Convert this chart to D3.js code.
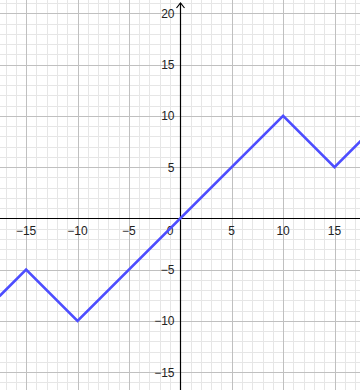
<!DOCTYPE html>
<html>
<head>
<meta charset="utf-8">
<script src="https://cdn.jsdelivr.net/npm/d3@7"></script>
<style>
  body { margin: 0; background: #fff; }
  svg { display: block; }
  .lbl { font-family: "Liberation Sans", Arial, sans-serif; font-size: 12px; fill: #222; }
</style>
</head>
<body>
<div id="vis"></div>
<script>
const width = 360, height = 390;

// graph corners (piecewise linear function), edge points cut at the window
const lineX = [-17.6, -15, -10, 10, 15, 17.6];
const lineY = [-7.6, -5, -10, 10, 5, 7.6];

// tick labels
const xTicks = [-15, -10, -5, 5, 10, 15];
const yTicks = [-15, -10, -5, 5, 10, 15, 20];

// visible window
const xDomain = [-17.54, 17.48];
const yDomain = [-16.75, 21.3];

const xScale = d3.scaleLinear().domain(xDomain).range([0, width]);
const yScale = d3.scaleLinear().domain(yDomain).range([height, 0]);

const svg = d3.select('#vis').append('svg')
  .attr('width', width)
  .attr('height', height);

// minor grid every 1 unit, major every 5
const minorX = d3.range(-17, 18).filter(v => v % 5 != 0);
const minorY = d3.range(-16, 22).filter(v => v % 5 != 0);
const majorX = d3.range(-15, 18, 5).filter(v => v != 0);
const majorY = d3.range(-15, 22, 5).filter(v => v != 0);

function gridLines(vals, vertical, color) {
  svg.append('g').selectAll('line')
    .data(vals)
    .join('line')
    .attr('x1', d => vertical ? Math.round(xScale(d)) + 0.5 : 0)
    .attr('x2', d => vertical ? Math.round(xScale(d)) + 0.5 : width)
    .attr('y1', d => vertical ? 0 : Math.round(yScale(d)) + 0.5)
    .attr('y2', d => vertical ? height : Math.round(yScale(d)) + 0.5)
    .attr('stroke', color)
    .attr('stroke-width', 1);
}
gridLines(minorX, true, '#e6e6e6');
gridLines(minorY, false, '#e6e6e6');
gridLines(majorX, true, '#c0c0c0');
gridLines(majorY, false, '#c0c0c0');

// axes
const x0 = Math.round(xScale(0)) + 0.5;
const y0 = Math.round(yScale(0)) + 0.5;
svg.append('line')
  .attr('x1', 0).attr('x2', width)
  .attr('y1', y0).attr('y2', y0)
  .attr('stroke', '#000').attr('stroke-width', 1.2);
svg.append('line')
  .attr('x1', x0).attr('x2', x0)
  .attr('y1', 3).attr('y2', height)
  .attr('stroke', '#000').attr('stroke-width', 1.2);
// arrow on top of the y axis
svg.append('path')
  .attr('d', `M${x0 - 4},${8} L${x0},${3} L${x0 + 4},${8}`)
  .attr('fill', 'none')
  .attr('stroke', '#000')
  .attr('stroke-width', 1.2);

const fmt = d3.format('d');

svg.append('g').selectAll('text')
  .data(xTicks)
  .join('text')
  .attr('class', 'lbl')
  .attr('x', d => xScale(d))
  .attr('y', y0 + 16)
  .attr('text-anchor', 'middle')
  .text(d => fmt(d));

svg.append('g').selectAll('text')
  .data(yTicks)
  .join('text')
  .attr('class', 'lbl')
  .attr('x', x0 - 6)
  .attr('y', d => yScale(d) + 4.5)
  .attr('text-anchor', 'end')
  .text(d => fmt(d));

// origin label
svg.append('text')
  .attr('class', 'lbl')
  .attr('x', x0 - 7)
  .attr('y', y0 + 16)
  .attr('text-anchor', 'end')
  .text('0');

// the function graph
const line = d3.line()
  .x((d, i) => xScale(lineX[i]))
  .y((d, i) => yScale(lineY[i]));

svg.append('path')
  .datum(lineX)
  .attr('d', line)
  .attr('fill', 'none')
  .attr('stroke', '#4d4dff')
  .attr('stroke-width', 2.6)
  .attr('stroke-linejoin', 'miter');
</script>
</body>
</html>
